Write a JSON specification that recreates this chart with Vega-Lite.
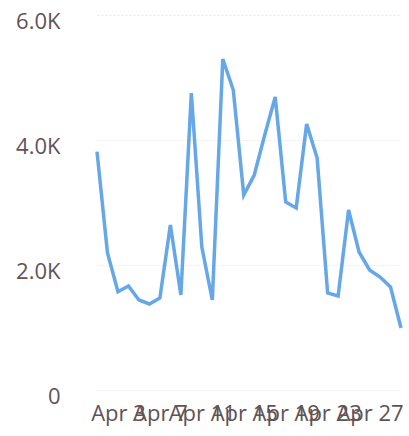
{
  "$schema": "https://vega.github.io/schema/vega-lite/v6.json",
  "width": 304,
  "height": 375,
  "autosize": {"type": "none"},
  "padding": {"left": 97, "top": 15, "right": 8, "bottom": 46},
  "background": "white",
  "config": {"view": {"stroke": null}},
  "data": {"values": [
    {"date": "2024-04-01T00:00:00", "value": 3813},
    {"date": "2024-04-02T00:00:00", "value": 2192},
    {"date": "2024-04-03T00:00:00", "value": 1573},
    {"date": "2024-04-04T00:00:00", "value": 1664},
    {"date": "2024-04-05T00:00:00", "value": 1440},
    {"date": "2024-04-06T00:00:00", "value": 1376},
    {"date": "2024-04-07T00:00:00", "value": 1472},
    {"date": "2024-04-08T00:00:00", "value": 2640},
    {"date": "2024-04-09T00:00:00", "value": 1520},
    {"date": "2024-04-10T00:00:00", "value": 4752},
    {"date": "2024-04-11T00:00:00", "value": 2288},
    {"date": "2024-04-12T00:00:00", "value": 1440},
    {"date": "2024-04-13T00:00:00", "value": 5296},
    {"date": "2024-04-14T00:00:00", "value": 4800},
    {"date": "2024-04-15T00:00:00", "value": 3120},
    {"date": "2024-04-16T00:00:00", "value": 3440},
    {"date": "2024-04-17T00:00:00", "value": 4080},
    {"date": "2024-04-18T00:00:00", "value": 4688},
    {"date": "2024-04-19T00:00:00", "value": 3008},
    {"date": "2024-04-20T00:00:00", "value": 2912},
    {"date": "2024-04-21T00:00:00", "value": 4256},
    {"date": "2024-04-22T00:00:00", "value": 3712},
    {"date": "2024-04-23T00:00:00", "value": 1552},
    {"date": "2024-04-24T00:00:00", "value": 1504},
    {"date": "2024-04-25T00:00:00", "value": 2880},
    {"date": "2024-04-26T00:00:00", "value": 2208},
    {"date": "2024-04-27T00:00:00", "value": 1920},
    {"date": "2024-04-28T00:00:00", "value": 1808},
    {"date": "2024-04-29T00:00:00", "value": 1648},
    {"date": "2024-04-30T00:00:00", "value": 992}
  ]},
  "mark": {"type": "line", "color": "#65a7e8", "strokeWidth": 3.5, "strokeJoin": "miter"},
  "encoding": {
    "x": {
      "field": "date",
      "type": "temporal",
      "scale": {"nice": false},
      "axis": {
        "title": null,
        "grid": false,
        "domain": false,
        "ticks": false,
        "format": "%b %-d",
        "values": [
          {"year": 2024, "month": 4, "date": 3},
          {"year": 2024, "month": 4, "date": 7},
          {"year": 2024, "month": 4, "date": 11},
          {"year": 2024, "month": 4, "date": 15},
          {"year": 2024, "month": 4, "date": 19},
          {"year": 2024, "month": 4, "date": 23},
          {"year": 2024, "month": 4, "date": 27}
        ],
        "labelOverlap": false,
        "labelFlush": false,
        "labelFont": "Open Sans",
        "labelFontSize": 22,
        "labelColor": "#5f5357",
        "labelPadding": 13,
        "labelAngle": 0
      }
    },
    "y": {
      "field": "value",
      "type": "quantitative",
      "scale": {"domain": [0, 6000], "nice": false},
      "axis": {
        "title": null,
        "values": [0, 2000, 4000, 6000],
        "labelExpr": "datum.value == 0 ? '0' : format(datum.value / 1000, '.1f') + 'K'",
        "grid": true,
        "gridColor": "#eee8e8",
        "gridWidth": 1,
        "gridDash": [2, 2],
        "domain": false,
        "ticks": false,
        "labelFont": "Open Sans",
        "labelFontSize": 22,
        "labelColor": "#5f5357",
        "labelPadding": 37,
        "labelOffset": 6
      }
    }
  }
}
